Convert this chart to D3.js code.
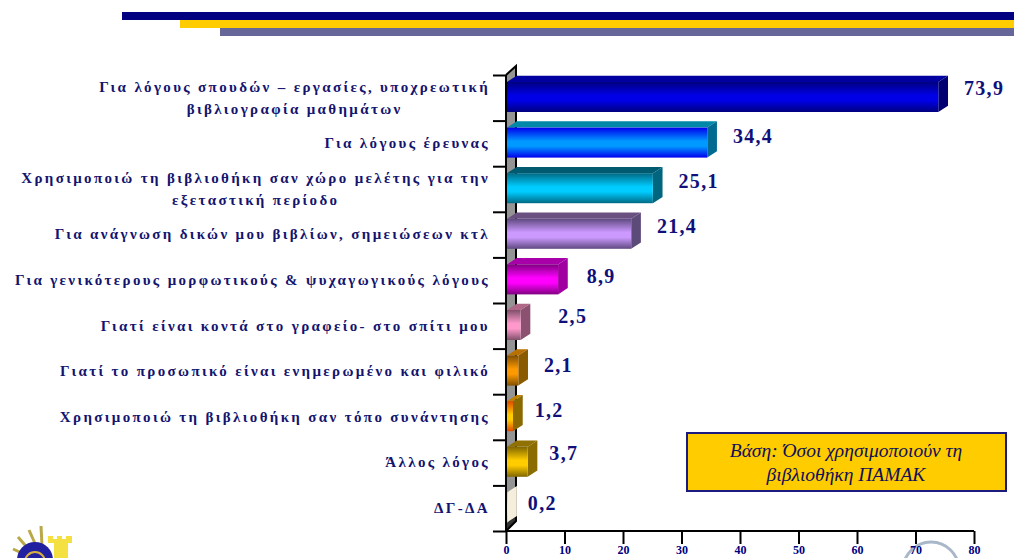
<!DOCTYPE html>
<html><head><meta charset="utf-8">
<script src="https://cdnjs.cloudflare.com/ajax/libs/d3/7.8.5/d3.min.js"></script>
<style>html,body{margin:0;padding:0;background:#fff;overflow:hidden}svg{display:block}</style>
</head><body><svg id="c" width="1014" height="558"></svg>
<script>
const categories = [
  ["Για λόγους σπουδών – εργασίες, υποχρεωτική","βιβλιογραφία μαθημάτων"],
  ["Για λόγους έρευνας"],
  ["Χρησιμοποιώ τη βιβλιοθήκη σαν χώρο μελέτης για την","εξεταστική περίοδο"],
  ["Για ανάγνωση δικών μου βιβλίων, σημειώσεων κτλ"],
  ["Για γενικότερους μορφωτικούς & ψυχαγωγικούς λόγους"],
  ["Γιατί είναι κοντά στο γραφείο- στο σπίτι μου"],
  ["Γιατί το προσωπικό είναι ενημερωμένο και φιλικό"],
  ["Χρησιμοποιώ τη βιβλιοθήκη σαν τόπο συνάντησης"],
  ["Άλλος λόγος"],
  ["ΔΓ-ΔΑ"]
];
const values = [73.9,34.4,25.1,21.4,8.9,2.5,2.1,1.2,3.7,0.2];
const tickValues = [0,10,20,30,40,50,60,70,80];
const frontEdge = ["#000080","#0000ee","#006a85","#5f4a80","#800080","#80506a","#805000","#e04800","#806600","#c8c0a8"];
const frontMid  = ["#0000e6","#0099ff","#00ccff","#cc99ff","#ff00ff","#ff99cc","#ff9900","#ffcc00","#ffcc00","#fff2d9"];
const sideColor = ["#000070","#006a90","#006680","#5c4a78","#a000a0","#8c5070","#8a5a00","#8a6a00","#8a6c00","#f5eedd"];
const topColor  = ["#0000a0","#0088a8","#005a70","#6a5080","#a800a8","#b06888","#b87000","#c08000","#907000","#d8d4c4"];
const labelDx = [16,16,16,16,19,28,16,12,12,11];
const labelDy = [13,15,15,14,19,13,16,16,13,18];
const boxLines = ["Βάση: Όσοι χρησιμοποιούν τη","βιβλιοθήκη ΠΑΜΑΚ"];
const headerBars = [[122,12,"#000080"],[180,20,"#ffcc00"],[220,28,"#666699"]];

const navy = "#14146e", serif = "'Liberation Serif','DejaVu Serif',serif";
const svg = d3.select("#c");
const x = d3.scaleLinear().domain([0,80]).range([506,974]);
const y = d3.scaleBand().domain(categories.map((d,i)=>i)).range([75,531]);
const depthX = 9.7, depthY = 6.3, padTop = 7, barH = 30;

// header stripes
svg.selectAll(".hdr").data(headerBars).join("rect")
  .attr("x",d=>d[0]).attr("y",d=>d[1]).attr("width",d=>1014-d[0]).attr("height",8).attr("fill",d=>d[2]);

// logos
const logo = svg.append("g");
[[13,549,28,556],[18,537,31,552],[29,530,37,548],[41,526,42,546]].forEach(r=>
  logo.append("line").attr("x1",r[0]).attr("y1",r[1]).attr("x2",r[2]).attr("y2",r[3])
    .attr("stroke","#b8a848").attr("stroke-width",3));
logo.append("circle").attr("cx",35).attr("cy",560).attr("r",18).attr("fill","#2020a0");
logo.append("circle").attr("cx",35).attr("cy",562).attr("r",10).attr("fill","none").attr("stroke","#d8b040").attr("stroke-width",2);
logo.append("path").attr("d","M48 536h5v3h4v-3h5v3h4v-3h6v7h-4v15h-14v-15h-6z").attr("fill","#f4e040");
svg.append("circle").attr("cx",931).attr("cy",570).attr("r",28).attr("fill","none").attr("stroke","#a8b8c8").attr("stroke-width",3);

// wall
const L=x(0), R=L+10;
svg.append("polygon").attr("points",`${L},75 ${R},66 ${R},521 ${L},531`).attr("fill","#949494");
svg.append("polygon").attr("points",`${L},531 ${R},521 ${R},513 ${L},523`).attr("fill","#333");

// axes
const axB = d3.axisBottom(x).tickValues(tickValues).tickSize(13).tickPadding(1).tickFormat(d3.format("d"));
const gB = svg.append("g").attr("transform","translate(0,531)").call(axB);
gB.select(".domain").attr("stroke","#000").attr("stroke-width",2).attr("d",`M${x(0)},0H${x(80)}`);
gB.selectAll("line").attr("stroke","#000").attr("stroke-width",2);
gB.selectAll("text").attr("fill","#000080").attr("font-family",serif).attr("font-weight","bold").attr("font-size",12);
const tickY = d3.scaleLinear().domain([0,categories.length]).range([75,531]);
const axL = d3.axisLeft(tickY).tickValues(d3.range(0,categories.length+1)).tickSize(13).tickFormat("");
const gL = svg.append("g").attr("transform",`translate(${L},0)`).call(axL);
gL.select(".domain").attr("stroke","#000").attr("stroke-width",2).attr("d","M0,75V531");
gL.selectAll("line").attr("stroke","#000").attr("stroke-width",2);
svg.append("path").attr("d",`M${L},75L${R},66V521L${L},531`).attr("fill","none").attr("stroke","#000").attr("stroke-width",2);

// gradients
const defs = svg.append("defs");
values.forEach((v,i)=>{
  const g = defs.append("linearGradient").attr("id","g"+i).attr("x1",0).attr("x2",0).attr("y1",0).attr("y2",1);
  [[0,frontEdge[i]],[.45,frontMid[i]],[.62,frontMid[i]],[1,frontEdge[i]]].forEach(s=>
    g.append("stop").attr("offset",s[0]).attr("stop-color",s[1]));
});

// bars
const bars = svg.append("g").selectAll("g").data(values).join("g");
bars.each(function(v,i){
  const g=d3.select(this), x0=L+1, x1=x(v), t=y(i)+padTop, b=t+barH;
  g.append("polygon").attr("points",`${x0},${t} ${x0+depthX},${t-depthY} ${x1+depthX},${t-depthY} ${x1},${t}`).attr("fill",topColor[i]);
  g.append("polygon").attr("points",`${x1},${t} ${x1+depthX},${t-depthY} ${x1+depthX},${b-depthY} ${x1},${b}`).attr("fill",sideColor[i]);
  g.append("rect").attr("x",x0).attr("y",t).attr("width",Math.max(x1-x0,.5)).attr("height",barH).attr("fill",`url(#g${i})`);
});

// value labels
svg.append("g").selectAll("text").data(values).join("text")
  .attr("x",(d,i)=>x(d)+depthX+labelDx[i]).attr("y",(d,i)=>y(i)+labelDy[i])
  .attr("dy",".35em").attr("font-family",serif).attr("font-weight","bold").attr("font-size",20)
  .attr("letter-spacing",1.3).attr("fill","#10107a")
  .text(d=>d3.format(".1f")(d).replace(".",","));

// category labels
const cat = svg.append("g").selectAll("text").data(categories).join("text")
  .attr("text-anchor","middle").attr("font-family",serif).attr("font-weight","bold").attr("font-size",15)
  .attr("letter-spacing",2.35).attr("fill",navy);
cat.each(function(lines,i){
  const t=d3.select(this), cy=y(i)+y.bandwidth()/2-.5;
  lines.forEach((s,j)=>{
    t.append("tspan").attr("y",cy+(j-(lines.length-1)/2)*22).attr("dy",".35em").text(s);
  });
});
// right-align the first line block, centre further lines under it
cat.each(function(lines){
  const sp=d3.select(this).selectAll("tspan").nodes();
  const w=sp[0].getComputedTextLength(), cx=490-w/2;
  sp.forEach(n=>n.setAttribute("x",cx));
});

// note box
svg.append("rect").attr("x",687).attr("y",433).attr("width",319).attr("height",58)
  .attr("fill","#ffcc00").attr("stroke","#1a1a80").attr("stroke-width",2);
svg.append("g").selectAll("text").data(boxLines).join("text")
  .attr("x",846).attr("y",(d,i)=>450+i*24).attr("dy",".35em").attr("text-anchor","middle")
  .attr("font-family",serif).attr("font-style","italic").attr("font-size",19.5).attr("fill","#10105a").text(d=>d);
</script></body></html>
